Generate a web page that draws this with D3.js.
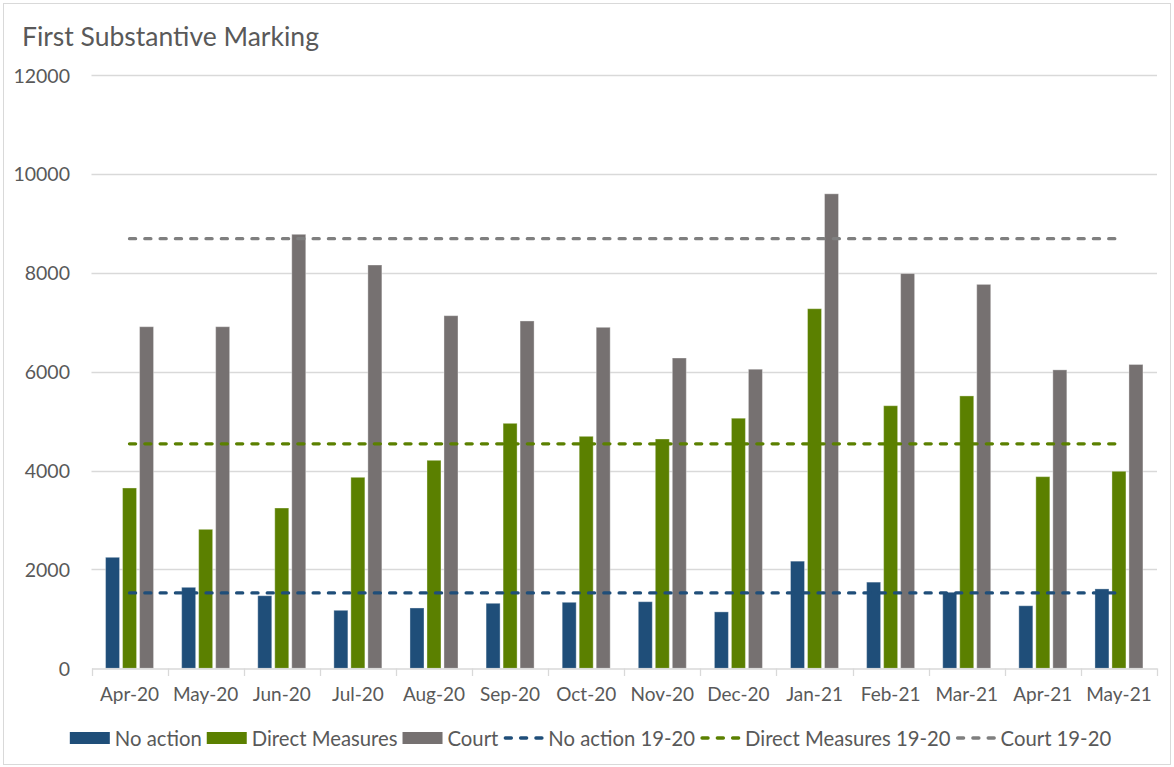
<!DOCTYPE html>
<html>
<head>
<meta charset="utf-8">
<script src="https://cdn.jsdelivr.net/npm/d3@7"></script>
<style>
  body { margin: 0; background: #fff; }
  text { font-family: Lato, "Noto Sans", sans-serif; fill: #595959; }
</style>
</head>
<body>
<svg id="chart" width="1174" height="767"></svg>
<script>
// months on the x axis
var months = ["Apr-20", "May-20", "Jun-20", "Jul-20", "Aug-20", "Sep-20", "Oct-20",
              "Nov-20", "Dec-20", "Jan-21", "Feb-21", "Mar-21", "Apr-21", "May-21"];

// bar series
var noAction = [2245, 1638, 1468, 1173, 1220, 1315, 1335, 1347, 1141, 2167, 1743, 1538, 1265, 1606];
var directMeasures = [3647, 2811, 3242, 3863, 4207, 4955, 4692, 4638, 5058, 7273, 5311, 5509, 3876, 3985];
var court = [6909, 6909, 8778, 8157, 7132, 7025, 6897, 6276, 6049, 9597, 7984, 7765, 6036, 6145];

// 19-20 averages (flat dashed lines)
var noAction1920 = 1525;
var directMeasures1920 = 4540;
var court1920 = 8690;

var yTicks = [0, 2000, 4000, 6000, 8000, 10000, 12000];

var barSeries = [
  {name: "No action", values: noAction, color: "#1F4E79"},
  {name: "Direct Measures", values: directMeasures, color: "#5B8000"},
  {name: "Court", values: court, color: "#767171"}
];
var lineSeries = [
  {name: "No action 19-20", value: noAction1920, color: "#1F4E79"},
  {name: "Direct Measures 19-20", value: directMeasures1920, color: "#5B8000"},
  {name: "Court 19-20", value: court1920, color: "#7F7F7F"}
];

var svg = d3.select("#chart");

// outer chart border
svg.append("rect")
  .attr("x", 3.5).attr("y", 3.5)
  .attr("width", 1167).attr("height", 761)
  .attr("fill", "#fff")
  .attr("stroke", "#D9D9D9");

svg.append("text")
  .attr("x", 22).attr("y", 46)
  .attr("font-size", 26.5)
  .text("First Substantive Marking");

var x = d3.scaleBand().domain(months).range([91.5, 1157]);
var y = d3.scaleLinear().domain([0, 12000]).range([668.3, 75]);
var groupW = 48;
var x1 = d3.scaleBand().domain(d3.range(barSeries.length))
  .range([0, groupW]).paddingInner(3 / 17);
var offset = (x.bandwidth() - groupW) / 2;

// gridlines
svg.append("g").selectAll("line")
  .data(yTicks.filter(d => d > 0)).enter()
  .append("line")
  .attr("x1", 91.5).attr("x2", 1157)
  .attr("y1", d => Math.round(y(d)) + 0.5).attr("y2", d => Math.round(y(d)) + 0.5)
  .attr("stroke", "#D9D9D9").attr("stroke-width", 1.3);

// y labels
svg.append("g").selectAll("text")
  .data(yTicks).enter()
  .append("text")
  .attr("x", 70).attr("y", d => y(d))
  .attr("text-anchor", "end")
  .attr("dominant-baseline", "central")
  .attr("font-size", 19.5)
  .text(d => d);

// bars
barSeries.forEach(function(s, si) {
  svg.append("g").selectAll("rect")
    .data(s.values).enter()
    .append("rect")
    .attr("x", (d, i) => x(months[i]) + offset + x1(si))
    .attr("width", x1.bandwidth())
    .attr("y", d => y(d))
    .attr("height", d => y(0) - y(d))
    .attr("fill", s.color)
    .attr("stroke", "#fff").attr("stroke-opacity", 0.35).attr("stroke-width", 1);
});

// x axis
var xAxis = d3.axisBottom(x).tickSize(0).tickPadding(19);
var ax = svg.append("g").attr("transform", "translate(0,668.5)").call(xAxis);
ax.select(".domain").attr("stroke", "#D9D9D9").attr("stroke-width", 1.3);
ax.selectAll("text").attr("font-size", 19).attr("fill", "#595959")
  .style("font-family", "Lato, 'Noto Sans', sans-serif");
// category boundary ticks
svg.append("g").selectAll("line")
  .data(months.concat(["end"])).enter()
  .append("line")
  .attr("x1", (d, i) => Math.round(91.5 + i * x.step()) + 0.5)
  .attr("x2", (d, i) => Math.round(91.5 + i * x.step()) + 0.5)
  .attr("y1", 668.5).attr("y2", 676)
  .attr("stroke", "#D9D9D9").attr("stroke-width", 1.3);

// dashed reference lines
var line = d3.line().x(d => d[0]).y(d => d[1]);
var xFirst = x(months[0]) + x.bandwidth() / 2;
var xLast = x(months[months.length - 1]) + x.bandwidth() / 2;
lineSeries.forEach(function(s) {
  svg.append("path")
    .attr("d", line([[xFirst, y(s.value)], [xLast, y(s.value)]]))
    .attr("fill", "none")
    .attr("stroke", s.color)
    .attr("stroke-width", 3.4)
    .attr("stroke-linecap", "round")
    .attr("stroke-dasharray", "6,9.3");
});

// legend
var legend = svg.append("g");
var lx = 0, ly = 738;
var items = barSeries.map(s => ({name: s.name, color: s.color, type: "bar"}))
  .concat(lineSeries.map(s => ({name: s.name, color: s.color, type: "line"})));
items.forEach(function(it) {
  if (it.type === "bar") {
    legend.append("rect")
      .attr("x", lx).attr("y", ly - 6)
      .attr("width", 40).attr("height", 12)
      .attr("fill", it.color);
  } else {
    legend.append("path")
      .attr("d", line([[lx + 2, ly], [lx + 40, ly]]))
      .attr("stroke", it.color).attr("stroke-width", 3.4)
      .attr("stroke-linecap", "round")
      .attr("stroke-dasharray", "6,9.3");
  }
  var t = legend.append("text")
    .attr("x", lx + 45).attr("y", ly)
    .attr("dominant-baseline", "central")
    .attr("font-size", 20.3)
    .text(it.name);
  lx += 45 + t.node().getComputedTextLength() + 5;
});
legend.attr("transform", "translate(" + (593 - lx / 2) + ",0)");
</script>
</body>
</html>
